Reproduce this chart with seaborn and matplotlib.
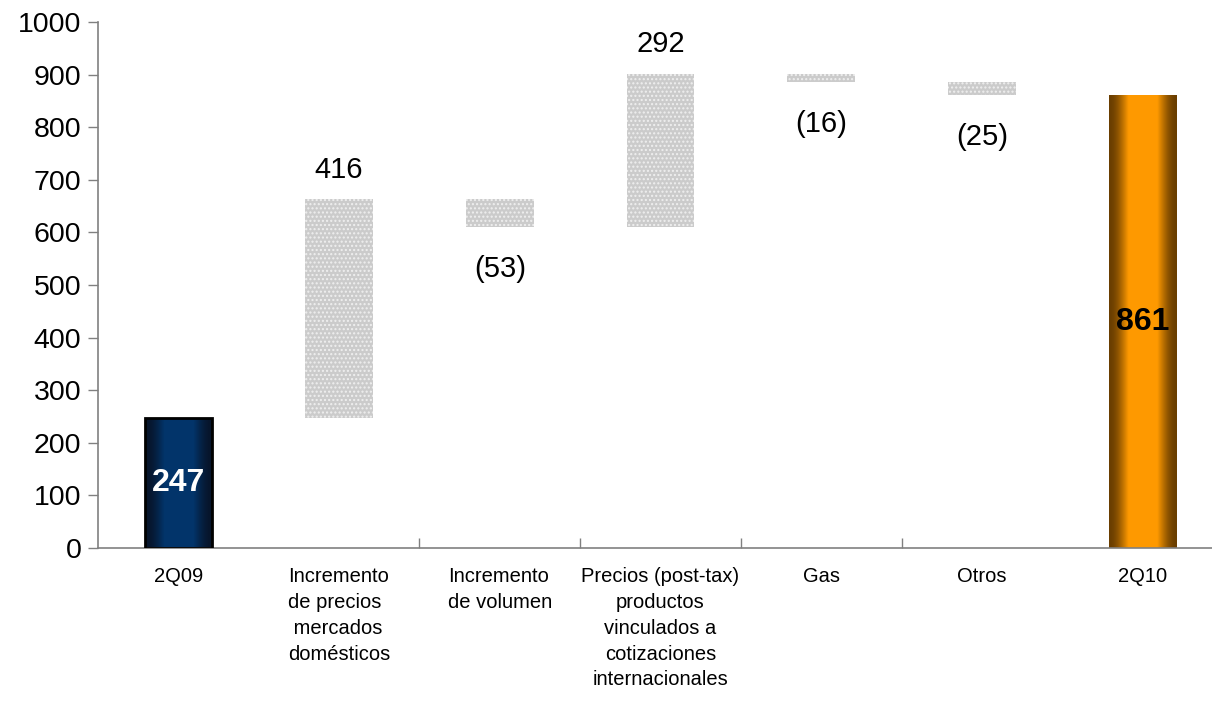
import numpy as np
import pandas as pd
import matplotlib
matplotlib.use("Agg")
import matplotlib.pyplot as plt
import seaborn as sns
from matplotlib.colors import LinearSegmentedColormap

# ---- data ----
categories = ["2Q09",
              "Incremento\nde precios\n mercados\ndomésticos",
              "Incremento\nde volumen",
              "Precios (post-tax)\nproductos\nvinculados a\ncotizaciones\ninternacionales",
              "Gas", "Otros", "2Q10"]
label_align = ["center", "left", "left", "center", "center", "center", "center"]
changes = [247, 416, -53, 292, -16, -25, 861]
kinds = ["total", "delta", "delta", "delta", "delta", "delta", "total"]
value_labels = ["247", "416", "(53)", "292", "(16)", "(25)", "861"]
y_ticks = list(range(0, 1001, 100))

# ---- waterfall geometry from data ----
bottoms, heights = [], []
running = 0
for c, k in zip(changes, kinds):
    if k == "total":
        bottoms.append(0)
        heights.append(c)
        running = c
    else:
        new = running + c
        bottoms.append(min(running, new))
        heights.append(abs(c))
        running = new
df = pd.DataFrame({"cat": categories, "height": heights, "bottom": bottoms})

sns.set_theme(style="white")
plt.rcParams["font.family"] = ["Liberation Sans", "DejaVu Sans"]
plt.rcParams["text.color"] = "black"
plt.rcParams["xtick.labelcolor"] = "black"
plt.rcParams["ytick.labelcolor"] = "black"

fig = plt.figure(figsize=(12.12, 7.03), dpi=100)
ax = fig.add_axes([98 / 1212, 155 / 703, (1223 - 98) / 1212, (548 - 22) / 703])

sns.barplot(data=df, x="cat", y="height", bottom=df["bottom"].values,
            width=0.42, errorbar=None, color="#cfcfcf", ax=ax, zorder=2)

grad_maps = {
    0: LinearSegmentedColormap.from_list("navy", ["#07142a", "#02356b", "#07142a"]),
    6: LinearSegmentedColormap.from_list("orng", ["#6a3e00", "#ff9a00", "#6a3e00"]),
}
xs = np.linspace(0, 1, 256)
prof = 0.5 - 0.5 * np.cos(2 * np.pi * xs)
prof = np.clip(prof * 1.6, 0, 1)
gvals = (prof * 0.5)[None, :]

patches = ax.patches
for i, p in enumerate(patches):
    if kinds[i] == "total":
        p.set_facecolor("none")
        x0, y0 = p.get_x(), p.get_y()
        w, h = p.get_width(), p.get_height()
        im = ax.imshow(gvals, cmap=grad_maps[i], vmin=0, vmax=1, aspect="auto",
                       extent=(x0, x0 + w, y0, y0 + h), zorder=2.5,
                       interpolation="bilinear")
        im.set_clip_path(p)
        if i == 0:
            p.set_edgecolor("black")
            p.set_linewidth(2.0)
            p.set_zorder(3)
        else:
            p.set_edgecolor("none")
            p.set_linewidth(0)
    else:
        p.set_facecolor("#cbcbcb")
        p.set_edgecolor("#efefef")
        p.set_hatch("....")
        p.set_linewidth(0)

ax.set_xlim(-0.5, 6.5)
ax.set_ylim(0, 1000)

# value labels
for i, (lab, k, c) in enumerate(zip(value_labels, kinds, changes)):
    if k == "total":
        ax.text(i, bottoms[i] + heights[i] / 2, lab, ha="center", va="center",
                fontsize=23, fontweight="bold",
                color="white" if i == 0 else "black", zorder=4)
    elif c > 0:
        ax.annotate(lab, (i, bottoms[i] + heights[i]), xytext=(0, 11),
                    textcoords="offset points", ha="center", va="bottom",
                    fontsize=21, color="black")
    else:
        ax.annotate(lab, (i, bottoms[i]), xytext=(0, -20),
                    textcoords="offset points", ha="center", va="top",
                    fontsize=21, color="black")

# axes styling
for s in ["top", "right"]:
    ax.spines[s].set_visible(False)
for s in ["left", "bottom"]:
    ax.spines[s].set_color("#808080")
    ax.spines[s].set_linewidth(1.2)

ax.set_yticks(y_ticks)
ax.set_yticklabels([str(t) for t in y_ticks])
ax.tick_params(axis="y", direction="out", length=7, width=1, color="#808080",
               labelsize=20.5, pad=5, left=True, labelcolor="black")
ax.set_xticks(range(len(categories)))
ax.set_xticklabels(categories, fontsize=14.5, linespacing=1.45)
for t, a in zip(ax.get_xticklabels(), label_align):
    t.set_multialignment(a)
    t.set_verticalalignment("top")
    t.set_color("black")
ax.tick_params(axis="x", length=0, pad=14)
ax.set_xticks([1.5, 2.5, 3.5, 4.5], minor=True)
ax.tick_params(axis="x", which="minor", direction="in", length=7, width=1,
               color="#808080", bottom=True)
ax.set_xlabel("")
ax.set_ylabel("")

fig.savefig("out.png", dpi=100)
